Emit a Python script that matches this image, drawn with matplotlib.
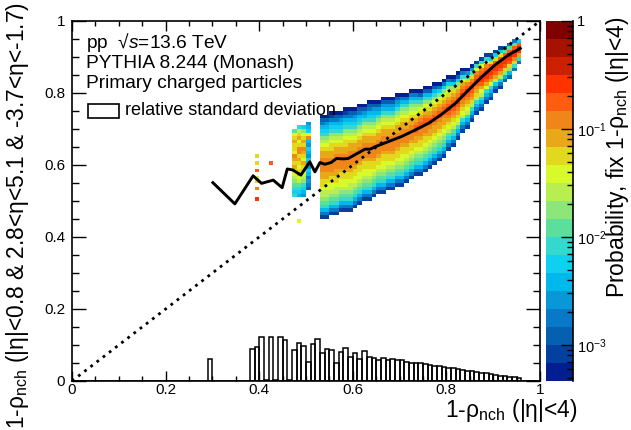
import matplotlib

matplotlib.use("Agg")
import matplotlib.pyplot as plt
import numpy as np
from matplotlib.colors import ListedColormap, LogNorm
from matplotlib.patches import Rectangle
from matplotlib.ticker import LogLocator, MultipleLocator, NullFormatter

plt.rcParams["font.family"] = ["Liberation Sans", "DejaVu Sans"]
plt.rcParams["mathtext.fontset"] = "custom"
plt.rcParams["mathtext.rm"] = "Liberation Sans"
plt.rcParams["mathtext.it"] = "Liberation Sans:italic"
plt.rcParams["mathtext.bf"] = "Liberation Sans:bold"

# ROOT-like 20 step palette, lowest -> highest
palette = [
    "#021e90", "#0440a0", "#0660b0", "#0878c8", "#0898d8",
    "#00b8ec", "#10d0f0", "#34d8cc", "#5cde9c", "#8ce67a",
    "#b8ee50", "#d8fa2a", "#e2d81e", "#e8a818", "#f0861a",
    "#ff5c10", "#ff3300", "#cc2000", "#a51200", "#800000",
]
z_min, z_max = 10 ** (-10 / 3), 1.0

# 2D probability map: x bin index, top y bin index, level codes going down (a = lowest band, t = highest, . = empty)
heat_cols = [39, 42, 47, 48, 49, 50] + list(range(53, 96))
heat_tops = [62, 60, 69, 70, 70, 71,
             73, 73, 74, 74, 74, 75, 75, 75, 76, 76, 77, 77, 77, 78, 78, 78, 79, 79, 79,
             80, 80, 80, 81, 81, 82, 82, 83, 84, 84, 85, 86, 86, 87, 88, 89, 90, 90, 91, 92, 92, 93, 94, 94]
heat_cells = [
    "m.m.p.lm.o..q",
    "p",
    "ilmnmmlonmnmlkjihgh",
    "hkmnlmoomnmlmnlkihgf......l",
    "gjlmnmonmlnmmlkjhgfe",
    "efglofegfegfegfdedc",
    "acdfghjklmnnoooonnmmlkkjihfdb",
    "acefghjklmnnoooonnmllkkjihfdb",
    "abdfghjklmmnnoooonmmllkjihfdb",
    "acdfghjklmnnoooonnmmlkkjihfdb",
    "acefghjklmnnoooonmmllkjihfdb",
    "abdfghjklmmnnoooonmmllkjihfdb",
    "acdfghjklmnnoooonnmmlkkjihfdb",
    "acefghjklmnnoooonmmllkjihfdb",
    "acdfghjklmnnoooonmmllkjihfdb",
    "acefhjklmnnoooonmmllkjihfdb",
    "acdfghjklmnnoooonmmllkjihfdb",
    "acefghjklmnnoooonmmlkjihfdb",
    "acefhjklmnnoooonmmlkjihfdb",
    "acefhjklmnnoooonmmllkjihfdb",
    "acefhjklmnnoooonmmlkjihfdb",
    "acefhjklmnnoooonmmlkjihfdb",
    "acefhjklmnnoooonmmlkjihfdb",
    "adfhjklmnnoooonmmllkjihfdb",
    "adfhjklmnnoooonmmlkjihfdb",
    "adfhjklmnnoooonmmlkjihfdb",
    "adfhjklmnopponnmlkjihfdb",
    "acfhjlmnoppoonmmlkjihfdb",
    "acfhjlmnoppoonmmlkjihfdb",
    "acfhjlmnopponnmlkjihfdb",
    "acfhjlmnopponnmlkjihfdb",
    "adgjlmnopponnmlkjihfdb",
    "adgjlmnopponnmlkjihfdb",
    "adgjlmnopqponmlkihfdb",
    "acgjmnopqponmlkihfdb",
    "acgjmnopqponmlkhfdb",
    "adhlnopqponmlkhfdb",
    "aeimopqponmlkhfdb",
    "aeimopqponmkhfdb",
    "bhlopqponmkhfdb",
    "bhlopqqpnlkhfdb",
    "bhlopqqpnlhfdb",
    "bgmpqqpnlhfdb",
    "bgmpqqpnkgdb",
    "bgmpqqpnkgdb",
    "dipqqpmjfc",
    "diprqpmjfc",
    "diprqomhd",
    "gprqnhd",
]

# mean of the distribution vs x
mean_x = [0.301, 0.348, 0.387, 0.405, 0.430, 0.449, 0.460, 0.472, 0.489, 0.508, 0.519, 0.530,
          0.540, 0.554, 0.565, 0.580, 0.590, 0.608, 0.626, 0.637, 0.648, 0.676, 0.704, 0.733,
          0.762, 0.790, 0.819, 0.847, 0.876, 0.904, 0.933, 0.958]
mean_y = [0.551, 0.492, 0.570, 0.549, 0.558, 0.537, 0.589, 0.586, 0.572, 0.609, 0.581, 0.607,
          0.602, 0.607, 0.618, 0.617, 0.618, 0.631, 0.644, 0.644, 0.651, 0.665, 0.679, 0.697,
          0.716, 0.741, 0.771, 0.808, 0.845, 0.878, 0.906, 0.924]

# relative standard deviation per 0.01 bin
rsd_single_bin = 29
rsd_single_val = 0.060
rsd_first_bin = 38
rsd_vals = [0.088, 0.094, 0.123, 0.004, 0.123, 0.004, 0.123, 0.114, 0.004, 0.086,
            0.105, 0.097, 0.054, 0.103, 0.118, 0.079, 0.088, 0.086, 0.051, 0.081,
            0.091, 0.068, 0.077, 0.060, 0.084, 0.066, 0.063, 0.058, 0.063, 0.057,
            0.060, 0.057, 0.057, 0.054, 0.051, 0.049, 0.049, 0.048, 0.045, 0.043,
            0.041, 0.040, 0.037, 0.035, 0.033, 0.031, 0.029, 0.027, 0.025, 0.023,
            0.021, 0.019, 0.017, 0.015, 0.013, 0.011, 0.010, 0.008]

W, H = 631, 430
fig = plt.figure(figsize=(W / 100, H / 100), dpi=100)
ax = fig.add_axes([72 / W, 49 / H, 468 / W, 360 / H])
cax = fig.add_axes([546 / W, 49 / H, 27 / W, 360 / H])

edges = np.linspace(0, 1, 101)
z = np.full((100, 100), np.nan)
for col, top, cells in zip(heat_cols, heat_tops, heat_cells):
    for k, ch in enumerate(cells):
        if ch == ".":
            continue
        lev = ord(ch) - ord("a")
        z[top - k, col] = 10 ** (np.log10(z_min) + (lev + 0.5) / 6)

cmap = ListedColormap(palette)
norm = LogNorm(vmin=z_min, vmax=z_max)
mesh = ax.pcolormesh(edges, edges, np.ma.masked_invalid(z), cmap=cmap, norm=norm,
                     shading="flat", antialiased=False, linewidth=0, zorder=1)

rsd = np.zeros(100)
rsd[rsd_single_bin] = rsd_single_val
rsd[rsd_first_bin:rsd_first_bin + len(rsd_vals)] = rsd_vals
ax.bar(edges[:-1], rsd, width=0.01, align="edge", fill=False, edgecolor="black",
       linewidth=1.1, zorder=2)

ax.plot([0, 1], [0, 1], color="black", linestyle=(0, (1, 1.8)), linewidth=2.0, zorder=3)
ax.plot(mean_x, mean_y, color="black", linewidth=2.1, zorder=4)

ax.set_xlim(0, 1)
ax.set_ylim(0, 1)
ticks = [0, 0.2, 0.4, 0.6, 0.8, 1]
tick_labels = ["0", "0.2", "0.4", "0.6", "0.8", "1"]
ax.set_xticks(ticks, tick_labels)
ax.set_yticks(ticks, tick_labels)
ax.xaxis.set_minor_locator(MultipleLocator(0.05))
ax.yaxis.set_minor_locator(MultipleLocator(0.05))
ax.tick_params(which="both", direction="in", top=True, right=True, labelsize=11, width=1.0)
ax.tick_params(axis="x", which="major", length=7, pad=1.5)
ax.tick_params(axis="x", which="minor", length=3.6)
ax.tick_params(axis="y", which="major", length=10, pad=5)
ax.tick_params(axis="y", which="minor", length=5)
for sp in ax.spines.values():
    sp.set_linewidth(1.2)

cb = fig.colorbar(mesh, cax=cax)
cb.outline.set_visible(False)
cb.set_ticks([1e-3, 1e-2, 1e-1, 1], labels=["10$^{-3}$", "10$^{-2}$", "10$^{-1}$", "1"])
cax.yaxis.set_minor_locator(LogLocator(base=10, subs=np.arange(2, 10)))
cax.yaxis.set_minor_formatter(NullFormatter())
cax.tick_params(which="both", direction="in", right=True, left=False, labelsize=10.5, width=1.0)
cax.tick_params(which="major", length=9, pad=3)
cax.tick_params(which="minor", length=4.5)
cax.plot([1, 1], [0, 1], transform=cax.transAxes, color="black", linewidth=1.2, clip_on=False)


def fx(px):
    return px / W


def fy(py):
    return 1 - py / H


fig.text(fx(86), fy(48.3), "pp  √$s$=13.6 TeV", fontsize=13.8, va="baseline")
fig.text(fx(86), fy(68.3), "PYTHIA 8.244 (Monash)", fontsize=13.8, va="baseline")
fig.text(fx(86), fy(88.3), "Primary charged particles", fontsize=13.8, va="baseline")
fig.patches.append(Rectangle((fx(88), fy(118)), (119 - 88) / W, 14 / H, transform=fig.transFigure,
                             fill=False, edgecolor="black", linewidth=1.2))
fig.text(fx(125), fy(115), "relative standard deviation", fontsize=13, va="baseline")

fig.text(fx(445), fy(416.7), "1-ρ$_{\\mathrm{nch}}$ (|η|<4)", fontsize=16.5, va="baseline", ha="left")
fig.text(fx(4), fy(429), "1-ρ$_{\\mathrm{nch}}$ (|η|<0.8 & 2.8<η<5.1 & -3.7<η<-1.7)",
         fontsize=16.4, rotation=90, ha="left", va="bottom")
fig.text(fx(604), fy(298), "Probability, fix 1-ρ$_{\\mathrm{nch}}$ (|η|<4)",
         fontsize=16.5, rotation=90, ha="left", va="bottom")

fig.savefig("out.png", dpi=100)
